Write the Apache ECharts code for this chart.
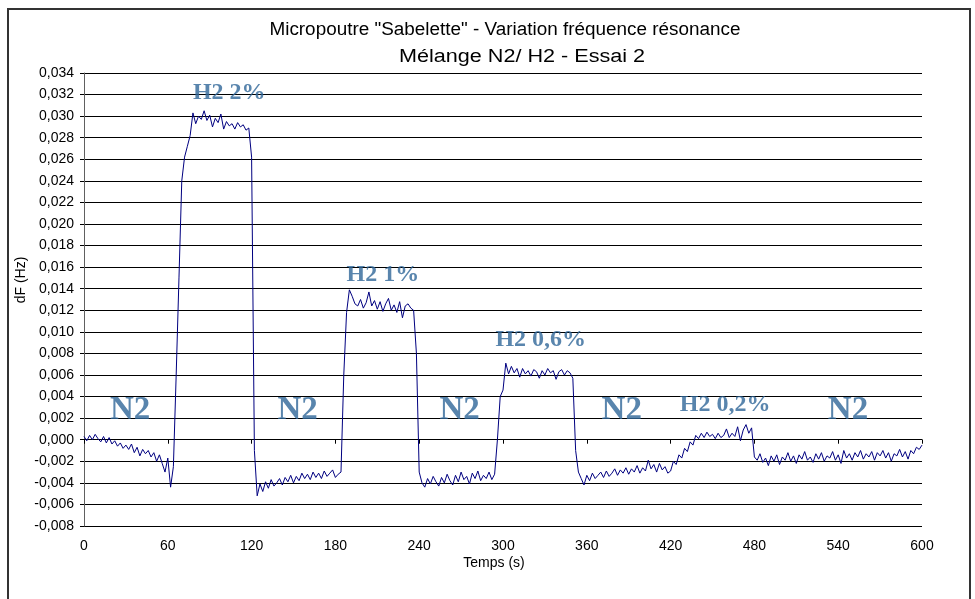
<!DOCTYPE html>
<html>
<head>
<meta charset="utf-8">
<script src="https://cdn.jsdelivr.net/npm/echarts@6/dist/echarts.min.js"></script>
<style>
  html, body { margin: 0; padding: 0; background: #fff; }
  #chart { width: 975px; height: 599px; }
</style>
</head>
<body>
<div id="chart"></div>
<script>
// Sampling period of the acquisition, in seconds
const SAMPLE_PERIOD = 2;

// Resonance frequency shift dF (Hz), one sample every SAMPLE_PERIOD seconds from t = 0 s
const dfN2Start = [
  0.0003, -0.0001, 0.0004, 0.0000, 0.0005, 0.0001, -0.0002, 0.0003, -0.0003, 0.0002,
  -0.0004, -0.0001, -0.0006, -0.0003, -0.0008, -0.0005, -0.0009, -0.0004, -0.0012, -0.0007,
  -0.0015, -0.0009, -0.0013, -0.0010, -0.0016, -0.0012, -0.0020, -0.0014, -0.0022, -0.0030,
  -0.0017, -0.0044, -0.0025
]; // t = 0 .. 64 s
const dfH2_2 = [
  0.0060, 0.0150, 0.0240, 0.0262, 0.0272, 0.0282, 0.0303, 0.0293, 0.0300, 0.0297,
  0.0305, 0.0296, 0.0301, 0.0290, 0.0298, 0.0294, 0.0302, 0.0288, 0.0295, 0.0291,
  0.0293, 0.0288, 0.0294, 0.0290, 0.0292, 0.0287, 0.0289, 0.0262
]; // t = 66 .. 120 s
const dfN2b = [
  -0.0010, -0.0052, -0.0041, -0.0048, -0.0039, -0.0045, -0.0037, -0.0043, -0.0040, -0.0036,
  -0.0042, -0.0035, -0.0039, -0.0033, -0.0040, -0.0034, -0.0038, -0.0031, -0.0036, -0.0032,
  -0.0037, -0.0030, -0.0035, -0.0031, -0.0036, -0.0029, -0.0034, -0.0031, -0.0028, -0.0035,
  -0.0032, -0.0030
]; // t = 122 .. 184 s
const dfH2_1 = [
  0.0060, 0.0118, 0.0139, 0.0133, 0.0126, 0.0124, 0.0130, 0.0122, 0.0127, 0.0137,
  0.0124, 0.0129, 0.0121, 0.0128, 0.0119, 0.0126, 0.0131, 0.0120, 0.0125, 0.0118,
  0.0128, 0.0113, 0.0124, 0.0126, 0.0122, 0.0120, 0.0080
]; // t = 186 .. 238 s
const dfN2c = [
  -0.0030, -0.0040, -0.0044, -0.0036, -0.0041, -0.0034, -0.0039, -0.0043, -0.0035, -0.0040,
  -0.0032, -0.0038, -0.0042, -0.0033, -0.0039, -0.0030, -0.0037, -0.0034, -0.0041, -0.0031,
  -0.0036, -0.0029, -0.0038, -0.0033, -0.0036, -0.0030, -0.0037, -0.0032
]; // t = 240 .. 294 s
const dfH2_06 = [
  0.0000, 0.0040, 0.0046, 0.0071, 0.0061, 0.0068, 0.0062, 0.0066, 0.0058, 0.0066,
  0.0061, 0.0064, 0.0059, 0.0065, 0.0063, 0.0057, 0.0064, 0.0060, 0.0066, 0.0062,
  0.0064, 0.0056, 0.0063, 0.0065, 0.0060, 0.0064, 0.0062, 0.0057
]; // t = 296 .. 350 s
const dfN2d = [
  -0.0010, -0.0030, -0.0036, -0.0042, -0.0033, -0.0038, -0.0031, -0.0036, -0.0033, -0.0030,
  -0.0035, -0.0029, -0.0034, -0.0031, -0.0027, -0.0033, -0.0028, -0.0031, -0.0026, -0.0032,
  -0.0027, -0.0030, -0.0024, -0.0031, -0.0026, -0.0029, -0.0019, -0.0027, -0.0023, -0.0030,
  -0.0022, -0.0028, -0.0025, -0.0031, -0.0029, -0.0020, -0.0023, -0.0014, -0.0017, -0.0008,
  -0.0011, -0.0002, -0.0005
]; // t = 352 .. 436 s
const dfH2_02 = [
  0.0004, 0.0001, 0.0006, 0.0002, 0.0007, 0.0003, 0.0005, 0.0001, 0.0006, 0.0002,
  0.0004, 0.0010, 0.0002, 0.0006, 0.0003, 0.0012, -0.0001, 0.0009, 0.0014, 0.0006,
  0.0011
]; // t = 438 .. 478 s
const dfN2End = [
  -0.0016, -0.0019, -0.0013, -0.0021, -0.0017, -0.0024, -0.0015, -0.0020, -0.0014, -0.0023,
  -0.0016, -0.0019, -0.0012, -0.0020, -0.0015, -0.0022, -0.0014, -0.0018, -0.0011, -0.0019,
  -0.0016, -0.0021, -0.0013, -0.0018, -0.0012, -0.0020, -0.0015, -0.0017, -0.0011, -0.0019,
  -0.0014, -0.0022, -0.0010, -0.0017, -0.0013, -0.0019, -0.0012, -0.0016, -0.0010, -0.0018,
  -0.0013, -0.0016, -0.0011, -0.0019, -0.0012, -0.0015, -0.0010, -0.0017, -0.0012, -0.0020,
  -0.0013, -0.0015, -0.0009, -0.0016, -0.0011, -0.0018, -0.0010, -0.0013, -0.0007, -0.0009,
  -0.0005
]; // t = 480 .. 600 s

// Gas phase annotations: [time (s), dF (Hz), text]
const phaseLabels = [
  [33, 0.0027, 'N2'],
  [153, 0.0027, 'N2'],
  [269, 0.0027, 'N2'],
  [385, 0.0027, 'N2'],
  [547, 0.0027, 'N2']
];
const h2Labels = [
  [104, 0.0322, 'H2 2%'],
  [214, 0.0153, 'H2 1%'],
  [327, 0.0093, 'H2 0,6%'],
  [459, 0.0032, 'H2 0,2%']
];

// Axis settings
const xMin = 0, xMax = 600, xStep = 60;
const yMin = -0.008, yMax = 0.034, yStep = 0.002;

const titleLine1 = 'Micropoutre "Sabelette" - Variation fréquence résonance';
const titleLine2 = 'Mélange N2/ H2 - Essai 2';
const xName = 'Temps (s)';
const yName = 'dF (Hz)';

const dfAll = [].concat(dfN2Start, dfH2_2, dfN2b, dfH2_1, dfN2c, dfH2_06, dfN2d, dfH2_02, dfN2End);
const series = dfAll.map((v, i) => [i * SAMPLE_PERIOD, v]);

const SANS = '"Liberation Sans", Arial, sans-serif';
const SERIF = '"Liberation Serif", "Times New Roman", serif';

function fmtY(v) {
  if (Math.abs(v) < 1e-9) v = 0;
  return v.toFixed(3).replace('.', ',');
}

const annotationLabel = (size) => ({
  show: true,
  position: 'inside',
  formatter: (p) => p.data[2],
  fontFamily: SERIF,
  fontWeight: 'bold',
  fontSize: size,
  color: '#2f6698',
  textShadowColor: '#ababab',
  textShadowOffsetX: 4,
  textShadowOffsetY: 2,
  textShadowBlur: 0
});

const chart = echarts.init(document.getElementById('chart'), null, { renderer: 'canvas' });
chart.setOption({
  animation: false,
  backgroundColor: '#fff',
  grid: { left: 84, right: 53, top: 73, bottom: 73, containLabel: false },
  xAxis: [
    {
      type: 'value', min: xMin, max: xMax, interval: xStep, position: 'bottom',
      axisLine: { show: false, onZero: false },
      axisTick: { show: false },
      splitLine: { show: false },
      axisLabel: { margin: 13, color: '#000', fontSize: 14, fontFamily: SANS }
    },
    {
      type: 'value', min: xMin, max: xMax, interval: xStep, position: 'bottom',
      axisLine: { show: true, onZero: true, lineStyle: { color: '#000', width: 1 } },
      axisTick: { show: true, length: 4, lineStyle: { color: '#000' } },
      splitLine: { show: false },
      axisLabel: { show: false }
    }
  ],
  yAxis: {
    type: 'value', min: yMin, max: yMax, interval: yStep,
    axisLine: { show: true, lineStyle: { color: '#606060', width: 1 } },
    axisTick: { show: true, length: 4, lineStyle: { color: '#000' } },
    splitLine: { show: true, lineStyle: { color: '#000', width: 1 } },
    axisLabel: { margin: 10, color: '#000', fontSize: 14, fontFamily: SANS, formatter: fmtY }
  },
  series: [
    {
      type: 'line', xAxisIndex: 0, data: series, showSymbol: false, symbol: 'none',
      lineStyle: { color: '#000080', width: 1 }, z: 3
    },
    {
      type: 'scatter', xAxisIndex: 0, data: phaseLabels, symbolSize: 0,
      label: annotationLabel(33), z: 4, silent: true
    },
    {
      type: 'scatter', xAxisIndex: 0, data: h2Labels, symbolSize: 0,
      label: annotationLabel(24), z: 4, silent: true
    }
  ],
  graphic: [
    {
      type: 'rect', shape: { x: 8, y: 9, width: 962, height: 620 },
      style: { fill: 'none', stroke: '#333', lineWidth: 2 }, silent: true
    },
    {
      type: 'text', x: 505, y: 30, scaleX: 1.05,
      style: { text: titleLine1, fill: '#000', font: '18px ' + SANS, textAlign: 'center', textVerticalAlign: 'middle' }
    },
    {
      type: 'text', x: 522, y: 57, scaleX: 1.2,
      style: { text: titleLine2, fill: '#000', font: '18px ' + SANS, textAlign: 'center', textVerticalAlign: 'middle' }
    },
    {
      type: 'text', x: 494, y: 563,
      style: { text: xName, fill: '#000', font: '14px ' + SANS, textAlign: 'center', textVerticalAlign: 'middle' }
    },
    {
      type: 'text', x: 21, y: 280, rotation: Math.PI / 2,
      style: { text: yName, fill: '#000', font: '14px ' + SANS, textAlign: 'center', textVerticalAlign: 'middle' }
    }
  ]
});
</script>
</body>
</html>
